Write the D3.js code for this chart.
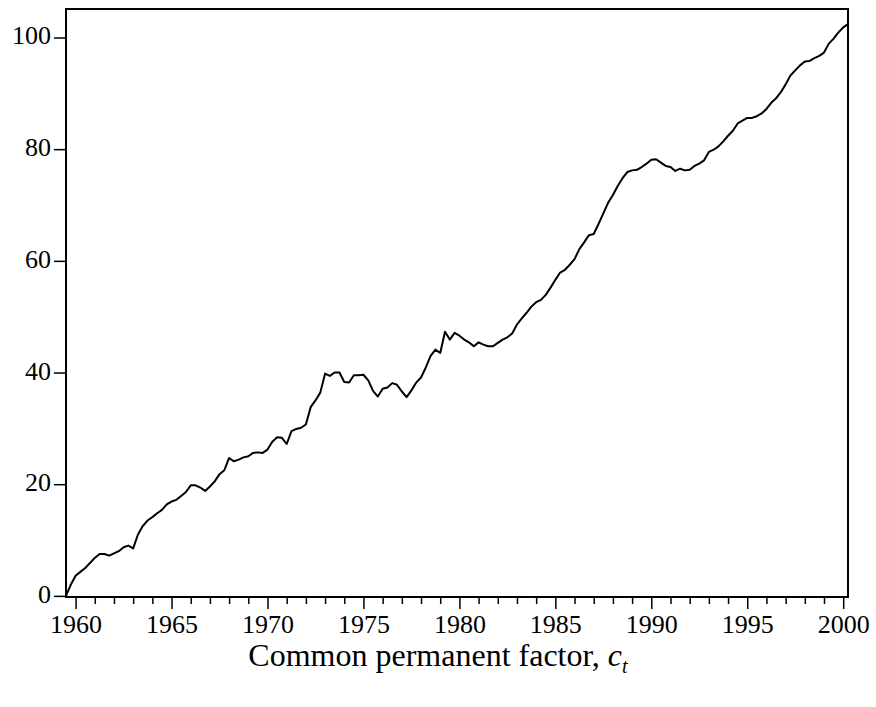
<!DOCTYPE html>
<meta charset="utf-8">
<style>
body { margin: 0; background: #fff; }
text { font-family: "Liberation Serif", "Times New Roman", serif; fill: #000; }
</style>
<body>
<script src="https://cdn.jsdelivr.net/npm/d3@7"></script>
<script>

var width = 876;
var height = 707;

// quarterly observations, 1959Q3 .. 2000Q2
var startYear = 1959.5;
var factorValues = [
  0.0, 2.0, 3.6, 4.3, 5.0, 5.9, 6.8, 7.5, 7.5, 7.2,
  7.6, 8.0, 8.7, 9.0, 8.5, 11.0, 12.5, 13.5, 14.1, 14.8,
  15.4, 16.4, 16.9, 17.2, 17.9, 18.6, 19.8, 19.8, 19.4, 18.8,
  19.6, 20.5, 21.8, 22.5, 24.7, 24.1, 24.4, 24.8, 25.0, 25.6,
  25.7, 25.6, 26.2, 27.6, 28.4, 28.3, 27.2, 29.5, 29.9, 30.1,
  30.7, 33.8, 35.0, 36.4, 39.8, 39.4, 40.0, 40.0, 38.3, 38.2,
  39.5, 39.5, 39.6, 38.6, 36.7, 35.7, 37.1, 37.3, 38.1, 37.8,
  36.6, 35.6, 36.8, 38.2, 39.1, 40.9, 43.0, 44.1, 43.5, 47.3,
  45.9, 47.1, 46.6, 45.9, 45.4, 44.7, 45.4, 45.0, 44.7, 44.7,
  45.3, 45.9, 46.3, 47.0, 48.6, 49.7, 50.7, 51.8, 52.6, 53.0,
  53.9, 55.2, 56.6, 57.9, 58.4, 59.3, 60.3, 62.1, 63.3, 64.6,
  64.8, 66.6, 68.5, 70.4, 71.8, 73.4, 74.8, 75.9, 76.2, 76.3,
  76.8, 77.4, 78.1, 78.2, 77.6, 77.0, 76.8, 76.1, 76.5, 76.2,
  76.3, 77.0, 77.4, 78.0, 79.5, 79.9, 80.5, 81.4, 82.4, 83.3,
  84.6, 85.1, 85.6, 85.6, 85.9, 86.4, 87.2, 88.3, 89.1, 90.2,
  91.6, 93.2, 94.1, 95.0, 95.7, 95.8, 96.3, 96.7, 97.3, 98.9,
  99.8, 100.9, 101.8, 102.4
];
var majorYears = [1960, 1965, 1970, 1975, 1980, 1985, 1990, 1995, 2000];
var yTicks = [0, 20, 40, 60, 80, 100];

var data = factorValues.map(function(v, i) {
  return { t: startYear + i * 0.25, v: v };
});

// plot box (don't call it "top", that's window.top)
var pL = 66, pR = 848, pT = 9, pB = 597;

var svg = d3.select("body").append("svg")
    .attr("width", width)
    .attr("height", height);

var x = d3.scaleLinear()
    .domain([data[0].t, data[data.length - 1].t])
    .range([pL, pR]);

var y = d3.scaleLinear()
    .domain([-0.2, 105.1])
    .range([pB, pT]);

// yearly minor ticks
var minorYears = d3.range(1960, 2001).filter(function(d) { return majorYears.indexOf(d) < 0; });

var xMajor = d3.axisBottom(x)
    .tickValues(majorYears)
    .tickSize(12)
    .tickPadding(6)
    .tickFormat(d3.format("d"));

var xMinor = d3.axisBottom(x)
    .tickValues(minorYears)
    .tickSize(7)
    .tickFormat("");

var yAxis = d3.axisLeft(y)
    .tickValues(yTicks)
    .tickSize(12)
    .tickPadding(3);

var gx = svg.append("g")
    .attr("transform", "translate(0," + pB + ")")
    .call(xMajor);
var gxm = svg.append("g")
    .attr("transform", "translate(0," + pB + ")")
    .call(xMinor);
var gy = svg.append("g")
    .attr("transform", "translate(" + pL + ",0)")
    .call(yAxis);

[gx, gxm, gy].forEach(function(g) {
  g.select(".domain").remove();
  g.selectAll(".tick line").attr("stroke", "#000").attr("stroke-width", 1.5);
  g.selectAll(".tick text")
    .attr("font-size", 26)
    .attr("font-family", "Liberation Serif, Times New Roman, serif")
    .attr("fill", "#000");
});
gy.selectAll(".tick text").attr("dy", "0.25em");

var line = d3.line()
    .x(function(d) { return x(d.t); })
    .y(function(d) { return y(d.v); });

svg.append("path")
    .datum(data)
    .attr("fill", "none")
    .attr("stroke", "#000")
    .attr("stroke-width", 2)
    .attr("stroke-linejoin", "round")
    .attr("d", line);

// frame
svg.append("rect")
    .attr("x", pL)
    .attr("y", pT)
    .attr("width", pR - pL)
    .attr("height", pB - pT)
    .attr("fill", "none")
    .attr("stroke", "#000")
    .attr("stroke-width", 2);

var title = svg.append("text")
    .attr("x", width / 2)
    .attr("y", 666)
    .attr("text-anchor", "middle")
    .attr("font-size", 32);
title.append("tspan").text("Common permanent factor,  ");
title.append("tspan").attr("font-style", "italic").text("c");
title.append("tspan").attr("font-style", "italic").attr("font-size", 20).attr("dy", 7).text("t");

</script>
</body>
</html>
